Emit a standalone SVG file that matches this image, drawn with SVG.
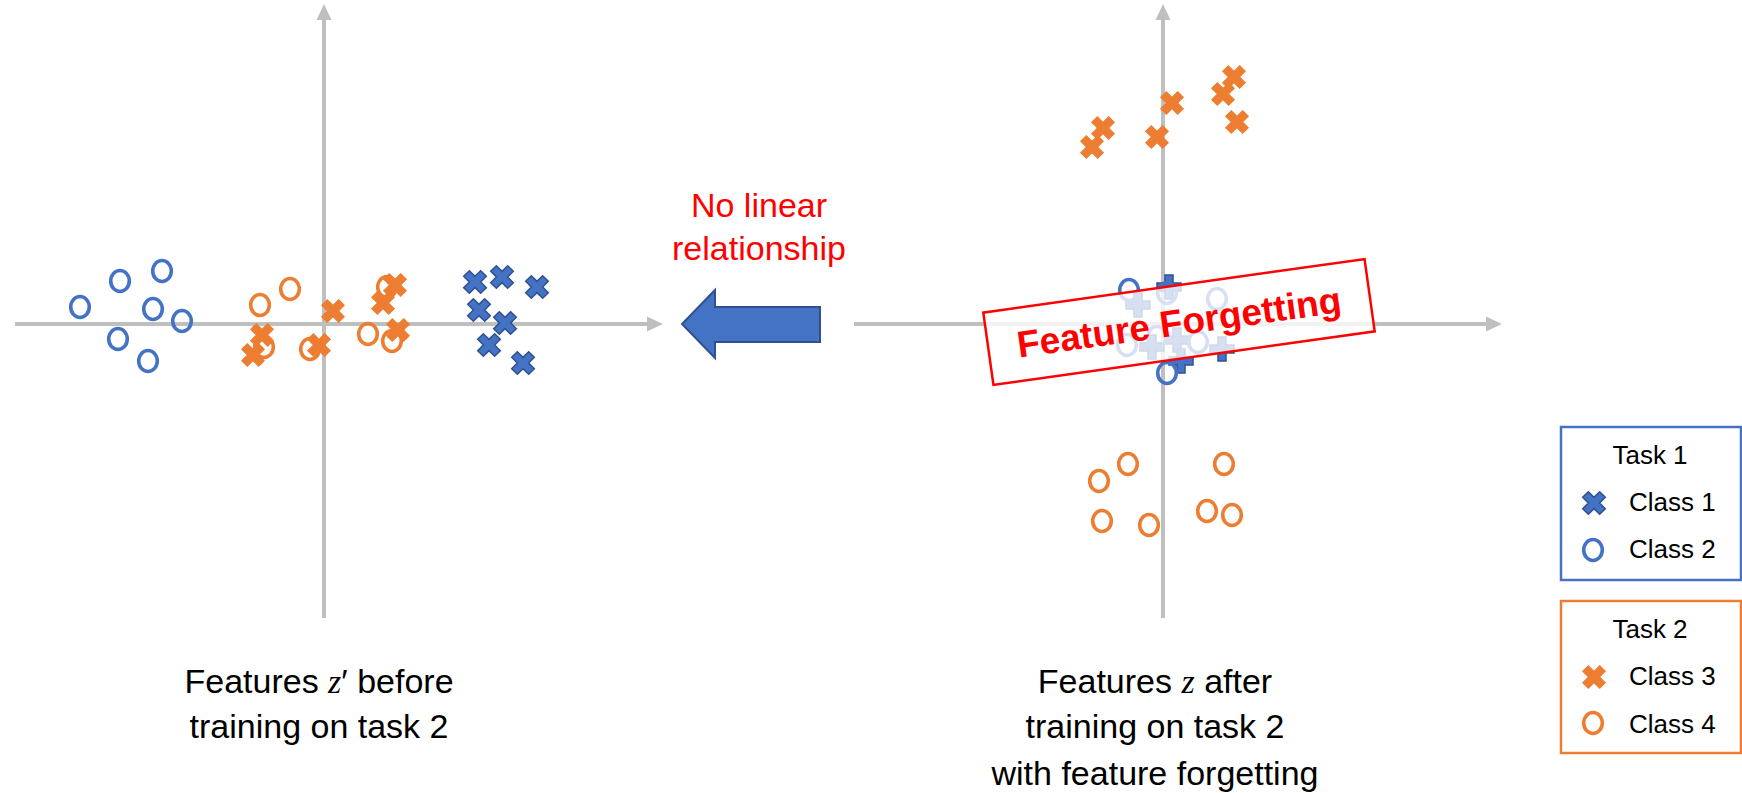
<svg xmlns="http://www.w3.org/2000/svg" xmlns:xlink="http://www.w3.org/1999/xlink" width="1742" height="793" viewBox="0 0 1742 793">
  <style>
    .axis { stroke: #BFBFBF; stroke-width: 4; fill: none; }
    .c1 { fill: #4472C4; stroke: #2F528F; stroke-width: 1.5; }
    .c2 { fill: none; stroke: #4472C4; stroke-width: 3.6; }
    .c3 { fill: #ED7D31; stroke: #ED7D31; stroke-width: 1; }
    .c4 { fill: none; stroke: #ED7D31; stroke-width: 3.6; }
    .lbl { font-family: "Liberation Sans", Arial, sans-serif; font-size: 34px; fill: #000; text-anchor: middle; }
    .math { font-family: "Liberation Serif", "Times New Roman", serif; font-style: italic; }
    .red { font-family: "Liberation Sans", Arial, sans-serif; font-size: 34px; fill: #FF0000; text-anchor: middle; }
    .leg { font-family: "Liberation Sans", Arial, sans-serif; font-size: 26px; fill: #000; }
  </style>
  <defs>
    <marker id="axhead" markerUnits="userSpaceOnUse" markerWidth="16" markerHeight="16" viewBox="0 0 16 16" refX="4" refY="8" orient="auto">
      <path d="M0,0.5 L16,8 L0,15.5 Z" fill="#BFBFBF"/>
    </marker>
    <!-- plus-shaped glyph; rotated 45 degrees it becomes the cross marker -->
    <path id="pm" d="M-4,-12 H4 V-4 H12 V4 H4 V12 H-4 V4 H-12 V-4 H-4 Z"/>
    <use id="xm" xlink:href="#pm" href="#pm" transform="rotate(45)"/>
    <ellipse id="om" cx="0" cy="0" rx="9.3" ry="10.5"/>
  </defs>

  <rect width="1742" height="793" fill="#FFFFFF"/>

  <!-- left scatter: features before training on task 2 -->
  <g id="plot-before">
    <line class="axis" x1="15" y1="324" x2="651" y2="324" marker-end="url(#axhead)"/>
    <line class="axis" x1="324" y1="618" x2="324" y2="16" marker-end="url(#axhead)"/>

    <g id="before-class2">
      <use class="c2" href="#om" xlink:href="#om" x="80" y="307"/>
      <use class="c2" href="#om" xlink:href="#om" x="120" y="281"/>
      <use class="c2" href="#om" xlink:href="#om" x="162" y="271"/>
      <use class="c2" href="#om" xlink:href="#om" x="153" y="309"/>
      <use class="c2" href="#om" xlink:href="#om" x="182" y="321"/>
      <use class="c2" href="#om" xlink:href="#om" x="118" y="339"/>
      <use class="c2" href="#om" xlink:href="#om" x="148" y="361"/>
    </g>
    <g id="before-class4">
      <use class="c4" href="#om" xlink:href="#om" x="260" y="305"/>
      <use class="c4" href="#om" xlink:href="#om" x="290" y="289"/>
      <use class="c4" href="#om" xlink:href="#om" x="264" y="347"/>
      <use class="c4" href="#om" xlink:href="#om" x="310" y="349"/>
      <use class="c4" href="#om" xlink:href="#om" x="368" y="334"/>
      <use class="c4" href="#om" xlink:href="#om" x="392" y="341"/>
      <use class="c4" href="#om" xlink:href="#om" x="387" y="287"/>
    </g>
    <g id="before-class3">
      <use class="c3" href="#xm" xlink:href="#xm" x="262" y="335"/>
      <use class="c3" href="#xm" xlink:href="#xm" x="253" y="355"/>
      <use class="c3" href="#xm" xlink:href="#xm" x="319" y="345"/>
      <use class="c3" href="#xm" xlink:href="#xm" x="333" y="311"/>
      <use class="c3" href="#xm" xlink:href="#xm" x="395" y="285"/>
      <use class="c3" href="#xm" xlink:href="#xm" x="383" y="303"/>
      <use class="c3" href="#xm" xlink:href="#xm" x="398" y="330"/>
    </g>
    <g id="before-class1">
      <use class="c1" href="#xm" xlink:href="#xm" x="475" y="282"/>
      <use class="c1" href="#xm" xlink:href="#xm" x="502" y="277"/>
      <use class="c1" href="#xm" xlink:href="#xm" x="537" y="287"/>
      <use class="c1" href="#xm" xlink:href="#xm" x="479" y="310"/>
      <use class="c1" href="#xm" xlink:href="#xm" x="505" y="323"/>
      <use class="c1" href="#xm" xlink:href="#xm" x="489" y="345"/>
      <use class="c1" href="#xm" xlink:href="#xm" x="523" y="363"/>
    </g>

    <text class="lbl" x="319" y="693">Features <tspan class="math">z</tspan>′ before</text>
    <text class="lbl" x="319" y="738">training on task 2</text>
  </g>

  <!-- right scatter: features after training on task 2 -->
  <g id="plot-after">
    <line class="axis" x1="854" y1="324" x2="1490" y2="324" marker-end="url(#axhead)"/>
    <line class="axis" x1="1163" y1="618" x2="1163" y2="16" marker-end="url(#axhead)"/>

    <g id="after-class3">
      <use class="c3" href="#xm" xlink:href="#xm" x="1103" y="128"/>
      <use class="c3" href="#xm" xlink:href="#xm" x="1092" y="147"/>
      <use class="c3" href="#xm" xlink:href="#xm" x="1172" y="103"/>
      <use class="c3" href="#xm" xlink:href="#xm" x="1157" y="137"/>
      <use class="c3" href="#xm" xlink:href="#xm" x="1234" y="77"/>
      <use class="c3" href="#xm" xlink:href="#xm" x="1223" y="94"/>
      <use class="c3" href="#xm" xlink:href="#xm" x="1237" y="122"/>
    </g>
    <g id="after-class4">
      <use class="c4" href="#om" xlink:href="#om" x="1128" y="464"/>
      <use class="c4" href="#om" xlink:href="#om" x="1099" y="481"/>
      <use class="c4" href="#om" xlink:href="#om" x="1102" y="521"/>
      <use class="c4" href="#om" xlink:href="#om" x="1149" y="525"/>
      <use class="c4" href="#om" xlink:href="#om" x="1224" y="464"/>
      <use class="c4" href="#om" xlink:href="#om" x="1207" y="511"/>
      <use class="c4" href="#om" xlink:href="#om" x="1232" y="515"/>
    </g>
    <g id="after-class1">
      <use class="c1" href="#pm" xlink:href="#pm" x="1169" y="287"/>
      <use class="c1" href="#pm" xlink:href="#pm" x="1138" y="305"/>
      <use class="c1" href="#pm" xlink:href="#pm" x="1152" y="347"/>
      <use class="c1" href="#pm" xlink:href="#pm" x="1177" y="340"/>
      <use class="c1" href="#pm" xlink:href="#pm" x="1181" y="361"/>
      <use class="c1" href="#pm" xlink:href="#pm" x="1222" y="349"/>
    </g>
    <g id="after-class2">
      <use class="c2" href="#om" xlink:href="#om" x="1129" y="290"/>
      <use class="c2" href="#om" xlink:href="#om" x="1167" y="293"/>
      <use class="c2" href="#om" xlink:href="#om" x="1217" y="299"/>
      <use class="c2" href="#om" xlink:href="#om" x="1127" y="345"/>
      <use class="c2" href="#om" xlink:href="#om" x="1157" y="337"/>
      <use class="c2" href="#om" xlink:href="#om" x="1198" y="342"/>
      <use class="c2" href="#om" xlink:href="#om" x="1167" y="373"/>
    </g>

    <text class="lbl" x="1155" y="693">Features <tspan class="math">z</tspan> after</text>
    <text class="lbl" x="1155" y="738">training on task 2</text>
    <text class="lbl" x="1155" y="785">with feature forgetting</text>
  </g>

  <!-- tilted stamp over the collapsed task-1 cluster -->
  <g id="stamp" transform="translate(1179,322) rotate(-8)">
    <rect x="-192.5" y="-36.5" width="385" height="73" fill="#FFFFFF" fill-opacity="0.78" stroke="#FF0000" stroke-width="2.5"/>
    <text x="0" y="13" text-anchor="middle" font-family="'Liberation Sans', Arial, sans-serif" font-size="37" font-weight="bold" fill="#FF0000">Feature Forgetting</text>
  </g>

  <g id="connectors">
    <polygon id="arrow-back" points="682,324 715,290 715,307 820,307 820,342 715,342 715,358" fill="#4472C4" stroke="#2F528F" stroke-width="2" stroke-linejoin="miter"/>
  </g>

  <g id="arrow-label">
    <text class="red" x="759" y="217">No linear</text>
    <text class="red" x="759" y="260">relationship</text>
  </g>

  <g id="legend-task1">
    <rect x="1561" y="427" width="180" height="153" fill="none" stroke="#4472C4" stroke-width="2.5"/>
    <text class="leg" x="1650" y="464" text-anchor="middle">Task 1</text>
    <use class="c1" href="#xm" xlink:href="#xm" x="1594" y="503"/>
    <text class="leg" x="1629" y="511">Class 1</text>
    <use class="c2" href="#om" xlink:href="#om" x="1593" y="550"/>
    <text class="leg" x="1629" y="558">Class 2</text>
  </g>

  <g id="legend-task2">
    <rect x="1561" y="601" width="180" height="152" fill="none" stroke="#ED7D31" stroke-width="2.5"/>
    <text class="leg" x="1650" y="638" text-anchor="middle">Task 2</text>
    <use class="c3" href="#xm" xlink:href="#xm" x="1594" y="677"/>
    <text class="leg" x="1629" y="685">Class 3</text>
    <use class="c4" href="#om" xlink:href="#om" x="1593" y="723"/>
    <text class="leg" x="1629" y="733">Class 4</text>
  </g>
</svg>
